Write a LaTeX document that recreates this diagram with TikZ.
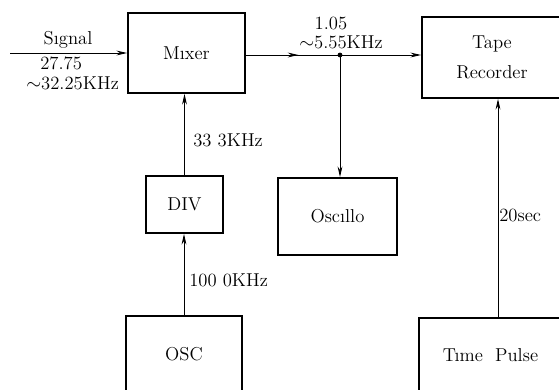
\documentclass[tikz,border=0pt]{standalone}
\usetikzlibrary{arrows.meta,decorations.markings,calc}
\begin{document}
\begin{tikzpicture}[x=0.75pt,y=-0.75pt,
  box/.style={draw,line width=1.3pt,rectangle,inner sep=0pt,font=\fontsize{14}{16}\selectfont},
  arr/.style={line width=0.7pt,-{Stealth[length=8pt,width=3.6pt]}},
  lbl/.style={inner sep=0pt,font=\fontsize{14}{16}\selectfont}]
\useasboundingbox (0,0) rectangle (559,389);
\clip (0,0) rectangle (559,389);
% boxes
\node[box,minimum width=87.75pt,minimum height=60pt] (mixer) at (186.5,53) {M\i xer};
\node[box,minimum width=105pt,minimum height=60.75pt,align=center] (tape) at (492,57.5) {Tape\\[6pt]Recorder};
\node[box,minimum width=107.25pt,minimum height=55.5pt] (tp) at (490.5,355) {T\i me\ \ Pulse};
\node[box,minimum width=87pt,minimum height=57pt] (osc) at (184,354) {OSC};
\node[box,minimum width=57.75pt,minimum height=42.75pt] (div) at (184.5,204.5) {DIV};
\node[box,minimum width=89.25pt,minimum height=57.75pt] (oscillo) at (337.5,216.5) {Osc\i llo};
% coordinates
\coordinate (sig) at (10,53);
\coordinate (j) at (340,55);
\coordinate (tpx) at (498,0);
% connectors
\draw[arr] (sig) -- (sig -| mixer.west);
\draw[arr,postaction={decorate},decoration={markings,mark=at position 0.3 with {\arrow{Stealth[length=8pt,width=3.6pt]}}}]
  (mixer.east |- j) -- (tape.west |- j);
\fill (j) circle (2.4);
\draw[arr] (j) -- (j |- oscillo.north);
\draw[arr] (div.north) -- (div.north |- mixer.south);
\draw[arr] (osc.north) -- (osc.north |- div.south);
\draw[arr] (tpx |- tp.north) -- (tpx |- tape.south);
% labels
\node[lbl] (lsig) at (68,40) {S\i gnal};
\node[lbl,anchor=west] (l1) at (40,63) {27.75};
\node[lbl,anchor=west] (l2) at (26,83) {$\sim$32.25KHz};
\node[lbl] (l3) at (331,23) {1.05};
\node[lbl] (l4) at (341,42) {$\sim$5.55KHz};
\node[lbl,anchor=west] (l5) at (193,140) {33 3KHz};
\node[lbl,anchor=west] (l6) at (189,280) {100 0KHz};
\node[lbl,anchor=west] (l7) at (499,215) {20sec};
\end{tikzpicture}
\end{document}
